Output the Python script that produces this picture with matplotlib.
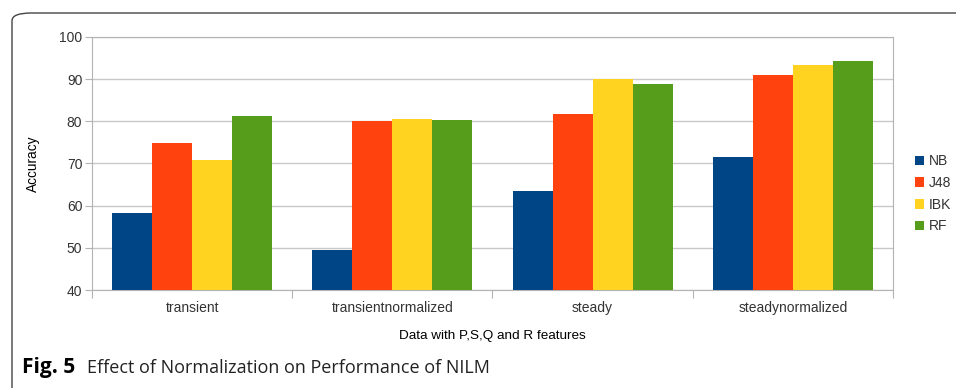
import numpy as np
import matplotlib.pyplot as plt
from matplotlib.patches import FancyBboxPatch

categories = ['transient', 'transientnormalized', 'steady', 'steadynormalized']
series = ['NB', 'J48', 'IBK', 'RF']
nb = [58.3, 49.6, 63.5, 71.5]
j48 = [74.9, 80.1, 81.7, 91.0]
ibk = [70.8, 80.5, 90.0, 93.4]
rf = [81.3, 80.3, 88.8, 94.3]
colors = ['#004586', '#ff420e', '#ffd320', '#579d1c']

plt.rcParams['font.family'] = ['Liberation Sans', 'DejaVu Sans']

fig = plt.figure(figsize=(9.56, 3.88), dpi=100)
ax = fig.add_axes([92 / 956, 1 - 290 / 388, 801 / 956, 253 / 388])

x = np.arange(len(categories))
w = 0.2
for i, (vals, name) in enumerate(zip([nb, j48, ibk, rf], series)):
    ax.bar(x - 0.3 + i * w, np.array(vals) - 40, bottom=40, width=w,
           color=colors[i], label=name, zorder=3)

ax.set_xlim(-0.5, 3.5)
ax.set_ylim(40, 100)
ax.set_yticks(range(40, 101, 10))
ax.grid(axis='y', color='#c8c8c8', linewidth=1, zorder=0)
ax.set_xticks(np.arange(-0.5, 4, 1))
ax.set_xticklabels([])
ax.set_xticks(x, minor=True)
ax.set_xticklabels(categories, minor=True)
ax.tick_params(axis='x', which='major', length=6, color='#b3b3b3', direction='out')
ax.tick_params(axis='x', which='minor', length=0, pad=8, labelsize=10, labelcolor='#333333')
ax.tick_params(axis='y', length=5, color='#b3b3b3', labelsize=10, labelcolor='#333333', pad=2)
for s in ax.spines.values():
    s.set_color('#b3b3b3')

ax.set_ylabel('Accuracy', fontsize=9.8, labelpad=14)
ax.set_xlabel('Data with P,S,Q and R features', fontsize=9.7, labelpad=11)

leg = ax.legend(loc='center left', bbox_to_anchor=(1.02, 0.38), frameon=False,
                fontsize=10, handlelength=0.7, handleheight=0.7, handletextpad=0.3,
                labelspacing=0.55, borderaxespad=0)
for t in leg.get_texts():
    t.set_color('#333333')

frame = FancyBboxPatch((12 / 956, -0.2), 1.2, 1 - 13 / 388 + 0.2,
                       boxstyle='round,pad=0,rounding_size=0.02',
                       transform=fig.transFigure, fill=False,
                       edgecolor='#444444', linewidth=1.0, clip_on=False)
fig.patches.append(frame)

fig.text(22 / 956, 1 - 368 / 388, 'Fig. 5', fontsize=15, fontweight='bold',
         family=['Open Sans', 'DejaVu Sans'], va='center')
fig.text(87 / 956, 1 - 368 / 388, 'Effect of Normalization on Performance of NILM',
         fontsize=13, family=['Open Sans', 'DejaVu Sans'], va='center', color='#222222')

fig.savefig('out.png', dpi=100)
